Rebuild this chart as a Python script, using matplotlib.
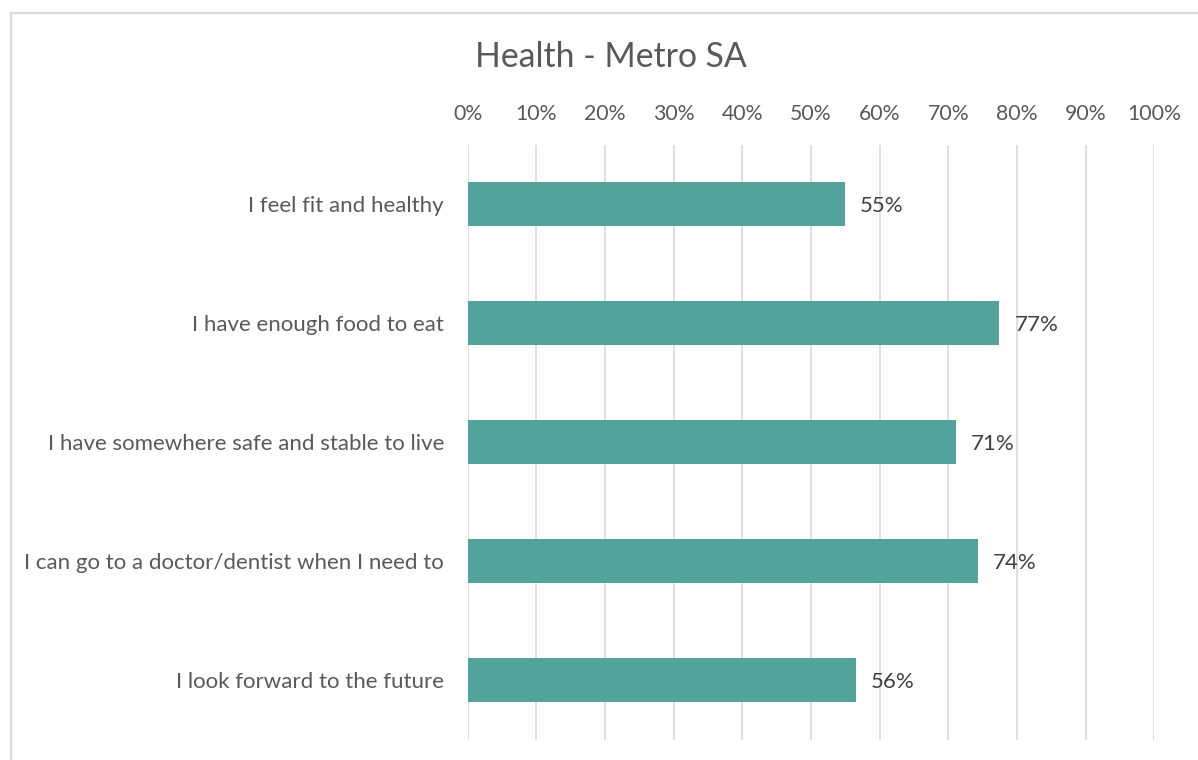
import matplotlib
matplotlib.use("Agg")
import matplotlib.pyplot as plt
from matplotlib.patches import Rectangle

categories = [
    "I feel fit and healthy",
    "I have enough food to eat",
    "I have somewhere safe and stable to live",
    "I can go to a doctor/dentist when I need to",
    "I look forward to the future",
]
values = [54.9, 77.4, 71.1, 74.3, 56.5]
labels = ["55%", "77%", "71%", "74%", "56%"]
ticks = list(range(0, 101, 10))
tick_labels = [f"{t}%" for t in ticks]
title = "Health - Metro SA"

W, H = 1198, 760
plt.rcParams['font.family'] = ['Lato', 'DejaVu Sans']
fig = plt.figure(figsize=(W / 100, H / 100), dpi=100)
fig.patch.set_facecolor("white")

# outer border
fig.add_artist(Rectangle((10.5 / W, -0.05), 1.2, 1 - 12.5 / H + 0.05,
                         transform=fig.transFigure, fill=False,
                         edgecolor="#d9d9d9", linewidth=1.5))

left, right, top, bottom = 467.6, 1154.3, 144.5, 739.5
ax = fig.add_axes([left / W, 1 - bottom / H, (right - left) / W, (bottom - top) / H])
y = list(range(len(categories)))
ax.barh(y, values, height=0.37, color="#51A39B", zorder=3)
ax.set_xlim(0, 100)
ax.set_ylim(len(categories) - 0.5, -0.5)
ax.set_yticks(y)
ax.set_yticklabels(categories)
ax.set_xticks(ticks)
ax.set_xticklabels(tick_labels)
ax.xaxis.tick_top()
ax.tick_params(axis="both", length=0, colors="#595959")
ax.tick_params(axis="y", pad=17, labelsize=16)
ax.tick_params(axis="x", pad=15, labelsize=15.3)
for s in ax.spines.values():
    s.set_visible(False)
ax.grid(axis="x", color="#d9d9d9", linewidth=1.2, zorder=0)
ax.set_axisbelow(True)

for yi, v, lab in zip(y, values, labels):
    ax.annotate(lab, (v, yi), xytext=(11, -1.5), textcoords="offset points",
                va="center", ha="left", fontsize=16, color="#404040")

fig.text(610.5 / W, 1 - 57 / H, title, ha="center", va="center",
         fontsize=24.3, color="#595959")

fig.savefig("out.png", dpi=100, facecolor="white")
